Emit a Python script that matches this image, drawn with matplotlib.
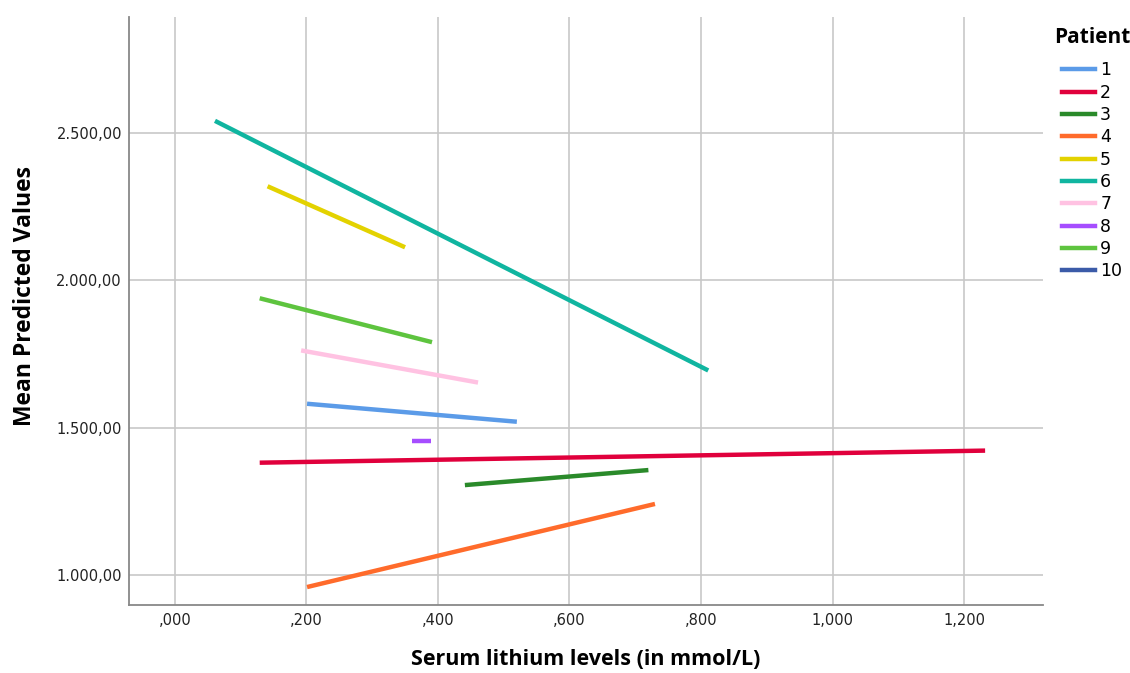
import matplotlib
matplotlib.use('Agg')
import matplotlib.pyplot as plt
from matplotlib.ticker import FuncFormatter
from matplotlib.lines import Line2D

patients = ['1', '2', '3', '4', '5', '6', '7', '8', '9', '10']
colors = ['#5b9be8', '#e0003c', '#2a8a2a', '#ff6b2b', '#e3d200',
          '#10b5a0', '#ffc2e2', '#a64dff', '#5ec43f', '#3b5ba8']
# start/end of each fitted line (serum lithium, predicted value)
x_start = [0.201, 0.129, 0.441, 0.201, 0.141, 0.061, 0.192, 0.360, 0.129, None]
x_end   = [0.520, 1.232, 0.720, 0.730, 0.350, 0.811, 0.461, 0.389, 0.391, None]
y_start = [1581, 1381, 1305, 959, 2319, 2541, 1762, 1456, 1939, None]
y_end   = [1520, 1422, 1356, 1241, 2112, 1694, 1653, 1456, 1790, None]

x_ticks = [0.0, 0.2, 0.4, 0.6, 0.8, 1.0, 1.2]
y_ticks = [1000, 1500, 2000, 2500]

fig = plt.figure(figsize=(11.3, 6.73), dpi=100)
ax = fig.add_axes([0.114, 0.101, 0.809, 0.874])

for i, p in enumerate(patients):
    if x_start[i] is None:
        continue
    ax.plot([x_start[i], x_end[i]], [y_start[i], y_end[i]], color=colors[i],
            lw=3.2, solid_capstyle='butt', zorder=3)

ax.set_xlim(-0.07, 1.32)
ax.set_ylim(898, 2894)
ax.set_xticks(x_ticks)
ax.set_yticks(y_ticks)

def fx(v, pos):
    s = f'{v:.3f}'.replace('.', ',')
    return s[1:] if s.startswith('0') else s

def fy(v, pos):
    return f'{v:,.2f}'.replace(',', 'X').replace('.', ',').replace('X', '.')

ax.xaxis.set_major_formatter(FuncFormatter(fx))
ax.yaxis.set_major_formatter(FuncFormatter(fy))
ax.grid(True, color='#c8c8c8', lw=1.2, zorder=0)
ax.set_axisbelow(True)
for s in ['top', 'right']:
    ax.spines[s].set_visible(False)
for s in ['left', 'bottom']:
    ax.spines[s].set_color('#888888')
    ax.spines[s].set_linewidth(1.3)
ax.tick_params(length=0, labelsize=10.5, colors='#222222', pad=5)
ax.tick_params(axis='x', pad=6)

ax.set_xlabel('Serum lithium levels (in mmol/L)', fontsize=15.5, fontweight='bold',
              family='Open Sans', labelpad=15)
ax.set_ylabel('Mean Predicted Values', fontsize=16.5, fontweight='bold',
              family='Open Sans')
ax.yaxis.set_label_coords(-0.1, 0.525)

fig.text(0.933, 0.945, 'Patient', fontsize=15, fontweight='bold',
         family='Open Sans', va='center', ha='left')
handles = [Line2D([0], [0], color=c, lw=3.2) for c in colors]
fig.legend(handles, patients, loc='upper left', bbox_to_anchor=(0.9398, 0.909),
           frameon=False, fontsize=12.5, handlelength=1.9, borderpad=0,
           borderaxespad=0, labelspacing=0.25, handletextpad=0.3)

fig.savefig('out.png', dpi=100)
